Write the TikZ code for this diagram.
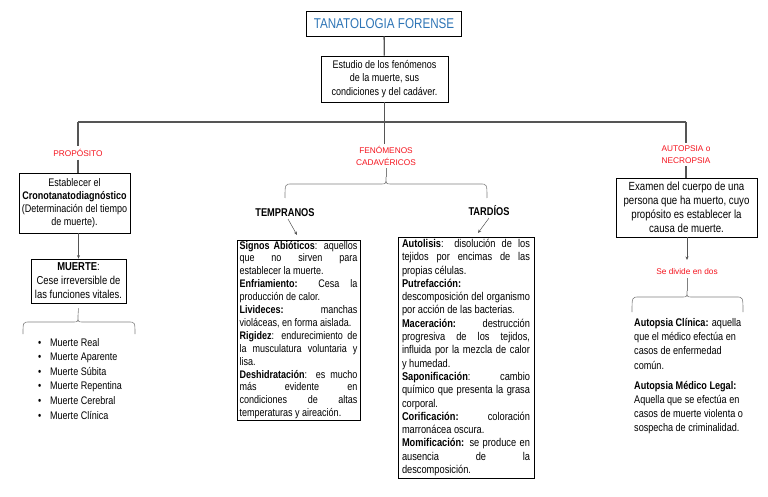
\documentclass[tikz,border=0pt]{standalone}
\usepackage{fontspec}
\setmainfont{Liberation Sans}[FakeStretch=0.82]
\newfontfamily\plainsans{Liberation Sans}
\usetikzlibrary{arrows.meta}
\definecolor{tblue}{RGB}{46,117,182}
\definecolor{tred}{RGB}{245,20,30}
\definecolor{cgray}{RGB}{85,85,85}
\newcommand\fs[2]{\fontsize{#1}{#2}\selectfont}
\newcommand\natsp{\spaceskip=0pt\xspaceskip=0pt\hyphenpenalty=10000\relax}
\newcommand\jA[1]{\makebox[118pt][s]{\natsp #1}}
\newcommand\jB[1]{\makebox[128pt][s]{\natsp #1}}
% x1 x2 xc yend yh ytip
\newcommand\wbrace[6]{\draw[brc] (#1,#4) .. controls (#1,#5) .. (#1+7,#5) -- (#3-5,#5) .. controls (#3,#5) .. (#3,#6) .. controls (#3,#5) .. (#3+5,#5) -- (#2-7,#5) .. controls (#2,#5) .. (#2,#4);}
\begin{document}
\begin{tikzpicture}[x=1pt,y=-1pt,
  box/.style={draw=black,line width=0.8pt,fill=white,align=center,inner sep=2pt},
  lbl/.style={text=tred,font=\plainsans\fs{8.3}{11.5},align=center,inner sep=0pt,outer sep=3pt},
  conn/.style={draw=cgray,line width=1.3pt},
  arr/.style={draw=cgray,line width=0.5pt,-{Stealth[length=3.5pt,width=3pt]}},
  brc/.style={draw=gray,line width=0.6pt},
  hdr/.style={font=\bfseries\fs{11.3}{13},inner sep=0pt,outer sep=2pt}]
\useasboundingbox[fill=white] (0,0) rectangle (768,497);

% top
\node[box, minimum width=155pt, minimum height=25pt, text=tblue, font=\fs{14.2}{16}] (title) at (384,23.5) {TANATOLOGIA FORENSE};
\node[box, minimum width=127pt, minimum height=46pt, font=\fs{11}{13.5}] (study) at (384.5,79) {\natsp Estudio de los fenómenos\\de la muerte, sus\\condiciones y del cadáver.};
\coordinate (jm) at (384.5,122);
\coordinate (jl) at (78,122);
\coordinate (jr) at (686,122);
\draw[conn] (title) -- (study);
\draw[conn] (study.south) -- (jm);
\draw[conn] (jl) -- (jr);

% labels
\node[lbl] (prop) at (78,153) {PROPÓSITO};
\node[lbl] (fen) at (386,156) {FENÓMENOS\\CADAVÉRICOS};
\node[lbl] (auto) at (686,154.5) {AUTOPSIA o\\NECROPSIA};
\draw[conn] (jl) -- (prop.north);
\draw[conn] (jm) -- (jm |- fen.north);
\draw[conn] (jr) -- (auto.north);

% left column
\node[box, minimum width=111pt, minimum height=60pt, font=\fs{11}{13.2}] (crono) at (74.5,203) {\natsp Establecer el\\\textbf{Cronotanatodiagnóstico}\\(Determinación del tiempo\\de muerte).};
\draw[conn] (prop.south) -- (prop.south |- crono.north);
\node[box, minimum width=95pt, minimum height=44pt, font=\fs{11.5}{14}] (muerte) at (78.5,281) {\natsp\textbf{MUERTE}:\\Cese irreversible de\\las funciones vitales.};
\draw[arr] (muerte.north |- crono.south) -- (muerte.north);
\coordinate (t1) at (78,316);
\draw[brc] ([yshift=-5pt]muerte.south) -- (t1);
\wbrace{23}{135}{78}{334}{322}{316}
\node[anchor=north west, inner sep=0pt, align=left, font=\fs{11}{14.6}] (list) at (38,338) {\natsp
\makebox[12pt][l]{\textbullet}Muerte Real\\
\makebox[12pt][l]{\textbullet}Muerte Aparente\\
\makebox[12pt][l]{\textbullet}Muerte Súbita\\
\makebox[12pt][l]{\textbullet}Muerte Repentina\\
\makebox[12pt][l]{\textbullet}Muerte Cerebral\\
\makebox[12pt][l]{\textbullet}Muerte Clínica};

% middle
\coordinate (t2) at (386,177);
\draw[brc] (fen.south) -- (t2);
\wbrace{285}{487}{386}{198}{184}{177}
\node[hdr] (temp) at (285,213) {TEMPRANOS};
\node[hdr] (tard) at (489,211) {TARDÍOS};
\node[box, align=left, text width=118pt, inner xsep=2.5pt, inner ysep=0pt, minimum height=180pt, font=\fs{11}{12.9}] (tbox) at (298.5,330) {\natsp
\jA{\textbf{Signos Abióticos}: aquellos}\\
\jA{que no sirven para}\\
establecer la muerte.\\
\jA{\textbf{Enfriamiento:} Cesa la}\\
producción de calor.\\
\jA{\textbf{Livideces:} manchas}\\
violáceas, en forma aislada.\\
\jA{\textbf{Rigidez}: endurecimiento de}\\
\jA{la musculatura voluntaria y}\\
lisa.\\
\jA{\textbf{Deshidratación}: es mucho}\\
\jA{más evidente en}\\
\jA{condiciones de altas}\\
temperaturas y aireación.};
\node[box, align=left, text width=128pt, inner xsep=4pt, inner ysep=0.5pt, minimum height=241pt, font=\fs{11.3}{13.3}] (dbox) at (466,357.5) {\natsp
\jB{\textbf{Autolisis}: disolución de los}\\
\jB{tejidos por encimas de las}\\
propias células.\\
\textbf{Putrefacción:}\\
\jB{descomposición del organismo}\\
por acción de las bacterias.\\
\jB{\textbf{Maceración:} destrucción}\\
\jB{progresiva de los tejidos,}\\
\jB{influida por la mezcla de calor}\\
y humedad.\\
\jB{\textbf{Saponificación}: cambio}\\
\jB{químico que presenta la grasa}\\
corporal.\\
\jB{\textbf{Corificación:} coloración}\\
marronácea oscura.\\
\jB{\textbf{Momificación:} se produce en}\\
\jB{ausencia de la}\\
descomposición.};
\coordinate (ta) at (297,235);
\coordinate (da) at (478,233);
\draw[arr] ([xshift=3pt]temp.south) -- (ta);
\draw[arr] (tard.south) -- (da);

% right column
\node[box, minimum width=141pt, minimum height=59pt, font=\fs{11.8}{14}] (abox) at (686.5,207.5) {\natsp Examen del cuerpo de una\\persona que ha muerto, cuyo\\propósito es establecer la\\causa de muerte.};
\draw[conn] (auto.south) -- (auto.south |- abox.north);
\node[lbl] (div) at (687,272) {Se divide en dos};
\draw[arr, shorten >=6pt] (div.north |- abox.south) -- (div.north);
\coordinate (t3) at (687,291);
\draw[brc] (div.south) -- (t3);
\wbrace{632}{743}{687}{312}{297}{291}
\node[anchor=north west, inner sep=0pt, align=left, font=\fs{11.1}{14.3}] (desc) at (634,318) {\natsp
\textbf{Autopsia Clínica:} aquella\\
que el médico efectúa en\\
casos de enfermedad\\
común.\\[5.5pt]
\textbf{Autopsia Médico Legal:}\\
Aquella que se efectúa en\\
casos de muerte violenta o\\
sospecha de criminalidad.};
\end{tikzpicture}
\end{document}
